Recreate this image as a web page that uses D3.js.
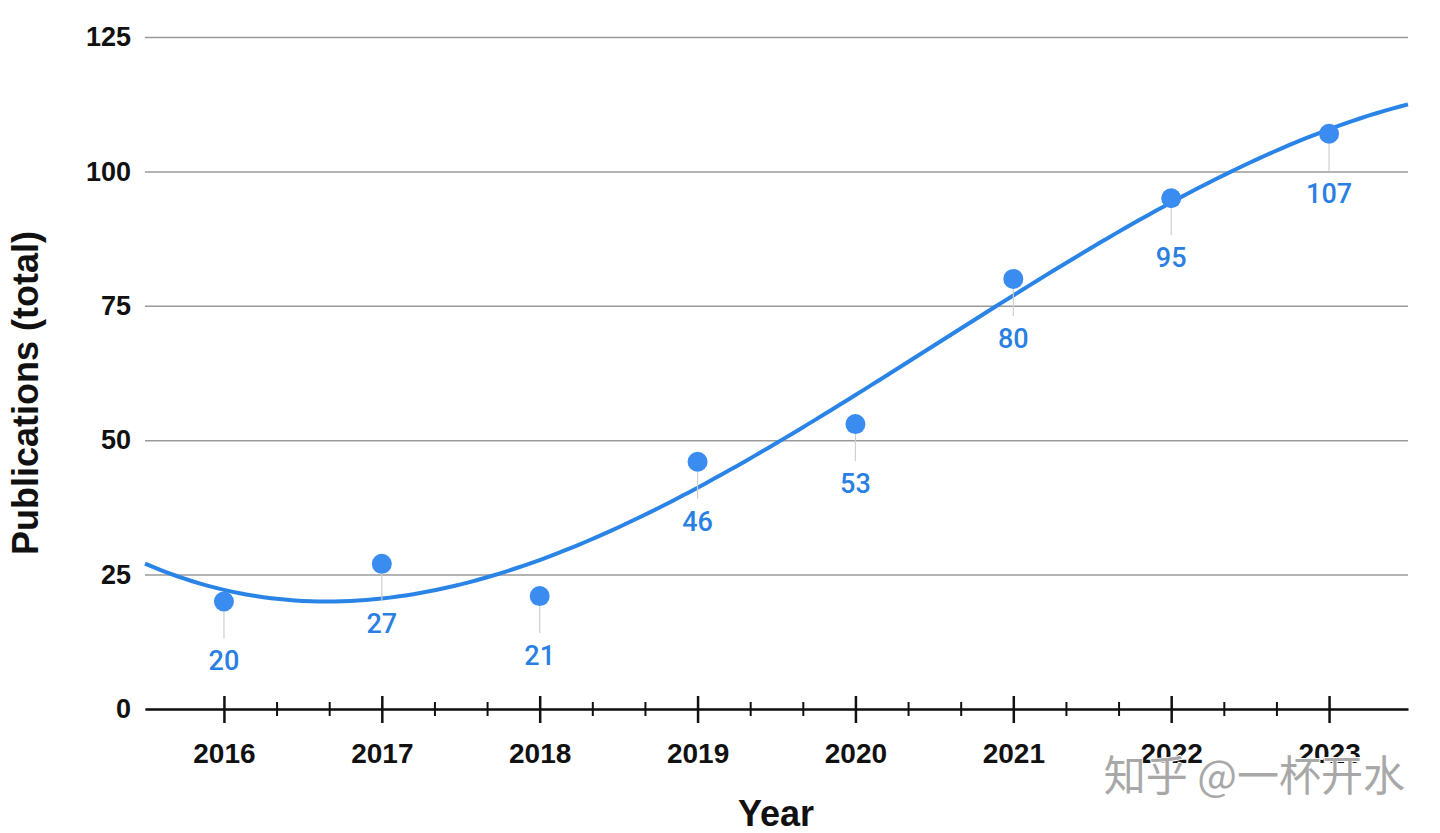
<!DOCTYPE html>
<html>
<head>
<meta charset="utf-8">
<script src="https://cdn.jsdelivr.net/npm/d3@7"></script>
<style>
  body { margin: 0; background: #fff; }
  svg { display: block; }
</style>
</head>
<body>
<div id="chart"></div>
<script>
// data
const years = [2016, 2017, 2018, 2019, 2020, 2021, 2022, 2023];
const publications = [20, 27, 21, 46, 53, 80, 95, 107];
const yTicks = [0, 25, 50, 75, 100, 125];

const width = 1440, height = 833;
const margin = {top: 37, right: 32, bottom: 124, left: 145};

const svg = d3.select("#chart")
  .append("svg")
  .attr("width", width)
  .attr("height", height);

const xScale = d3.scaleLinear()
  .domain([2015.5, 2023.5])
  .range([margin.left, width - margin.right]);
const yScale = d3.scaleLinear()
  .domain([0, 125])
  .range([height - margin.bottom, margin.top]);

// gridlines + y labels
const yAxis = d3.axisLeft(yScale)
  .tickValues(yTicks)
  .tickSize(-(width - margin.left - margin.right))
  .tickPadding(14);

const y_axis = svg.append("g")
  .attr("transform", `translate(${margin.left},0)`)
  .call(yAxis);
y_axis.select(".domain").remove();
y_axis.selectAll("line")
  .attr("stroke", "#9a9a9a")
  .attr("stroke-width", 1.5);
y_axis.selectAll("text")
  .attr("font-family", "Liberation Sans, Arial, sans-serif")
  .attr("font-weight", "bold")
  .attr("font-size", 27)
  .attr("fill", "#111");

// cubic trendline (least squares fit, like the source chart's polynomial trendline)
function polyFit(xs, ys, deg) {
  const n = deg + 1;
  const A = [];
  for (let i = 0; i < n; i++) {
    A.push([]);
    for (let j = 0; j < n; j++) A[i].push(d3.sum(xs, x => Math.pow(x, i + j)));
    A[i].push(d3.sum(xs, (x, k) => Math.pow(x, i) * ys[k]));
  }
  for (let c = 0; c < n; c++) {
    for (let r = c + 1; r < n; r++) {
      const f = A[r][c] / A[c][c];
      for (let k = c; k <= n; k++) A[r][k] -= f * A[c][k];
    }
  }
  const coef = new Array(n).fill(0);
  for (let r = n - 1; r >= 0; r--) {
    let s = A[r][n];
    for (let k = r + 1; k < n; k++) s -= A[r][k] * coef[k];
    coef[r] = s / A[r][r];
  }
  return coef;
}
const t0 = years[0];
const coef = polyFit(years.map(y => y - t0), publications, 3);
const trend = t => coef.reduce((s, c, i) => s + c * Math.pow(t - t0, i), 0);
const xs = d3.range(xScale.domain()[0], xScale.domain()[1] + 0.001, 0.05);

svg.append("path")
  .datum(xs)
  .attr("fill", "none")
  .attr("stroke", "#2a84e6")
  .attr("stroke-width", 4)
  .attr("d", d3.line()
    .x(d => xScale(d))
    .y(d => yScale(trend(d))));

// x axis
const minorTicks = [];
years.slice(0, -1).forEach(y => { minorTicks.push(y + 1 / 3, y + 2 / 3); });

const xMinor = d3.axisBottom(xScale)
  .tickValues(minorTicks)
  .tickSizeInner(7)
  .tickSizeOuter(0)
  .tickFormat("");
const xMajor = d3.axisBottom(xScale)
  .tickValues(years)
  .tickSizeInner(14)
  .tickSizeOuter(0)
  .tickFormat(d3.format("d"));

const baseY = yScale(0);
const xm = svg.append("g")
  .attr("transform", `translate(0,${baseY})`)
  .call(xMinor);
xm.select(".domain").remove();
xm.selectAll("line")
  .attr("y1", -7)
  .attr("stroke", "#111")
  .attr("stroke-width", 2);

const x_axis = svg.append("g")
  .attr("transform", `translate(0,${baseY})`)
  .call(xMajor);
x_axis.select(".domain")
  .attr("stroke", "#111")
  .attr("stroke-width", 2.5);
x_axis.selectAll(".tick line")
  .attr("y1", -13)
  .attr("stroke", "#111")
  .attr("stroke-width", 2.5);
x_axis.selectAll("text")
  .attr("y", 54)
  .attr("dy", 0)
  .attr("font-family", "Liberation Sans, Arial, sans-serif")
  .attr("font-weight", "bold")
  .attr("font-size", 28)
  .attr("fill", "#111");

// leader lines, points, labels
const pts = years.map((y, i) => ({year: y, value: publications[i]}));

svg.append("g").selectAll("line")
  .data(pts)
  .join("line")
  .attr("x1", d => xScale(d.year))
  .attr("x2", d => xScale(d.year))
  .attr("y1", d => yScale(d.value) + 10)
  .attr("y2", d => yScale(d.value) + 37)
  .attr("stroke", "#cfcfcf")
  .attr("stroke-width", 1.2);

svg.append("g").selectAll("circle")
  .data(pts)
  .join("circle")
  .attr("cx", d => xScale(d.year))
  .attr("cy", d => yScale(d.value))
  .attr("r", 10)
  .attr("fill", "#3a8cf0");

svg.append("g").selectAll("text")
  .data(pts)
  .join("text")
  .attr("x", d => xScale(d.year))
  .attr("y", d => yScale(d.value) + 69)
  .attr("text-anchor", "middle")
  .attr("font-family", "Roboto, sans-serif")
  .attr("font-weight", 500)
  .attr("font-size", 27)
  .attr("fill", "#2a80e2")
  .text(d => d.value);

// axis titles
svg.append("text")
  .attr("transform", `translate(38,${(margin.top + baseY) / 2 + 20}) rotate(-90)`)
  .attr("text-anchor", "middle")
  .attr("font-family", "Liberation Sans, Arial, sans-serif")
  .attr("font-weight", "bold")
  .attr("font-size", 36)
  .attr("fill", "#111")
  .text("Publications (total)");

svg.append("text")
  .attr("x", 776)
  .attr("y", 826)
  .attr("text-anchor", "middle")
  .attr("font-family", "Liberation Sans, Arial, sans-serif")
  .attr("font-weight", "bold")
  .attr("font-size", 36)
  .attr("fill", "#111")
  .text("Year");

// watermark
svg.append("text")
  .attr("x", 1405)
  .attr("y", 791)
  .attr("text-anchor", "end")
  .attr("font-family", "Noto Sans CJK SC, sans-serif")
  .attr("font-size", 42)
  .attr("fill", "#a8a8a8")
  .attr("stroke", "#fff")
  .attr("stroke-width", 2)
  .attr("paint-order", "stroke")
  .text("知乎 @一杯开水");
</script>
</body>
</html>
